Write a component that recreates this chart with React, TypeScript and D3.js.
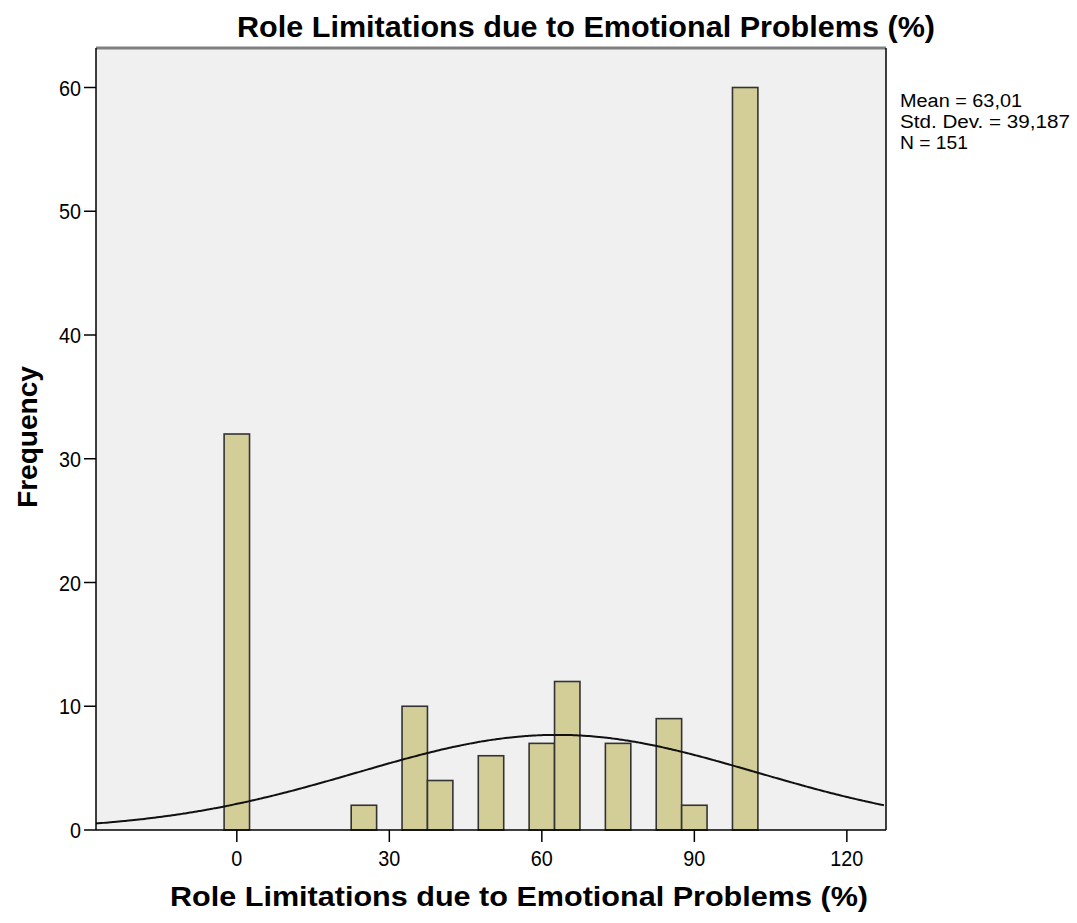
import React from "react";
import * as d3 from "d3";

const binCenters = [0, 25, 35, 40, 50, 60, 65, 75, 85, 90, 100];
const frequencies = [32, 2, 10, 4, 6, 7, 12, 7, 9, 2, 60];
const binWidth = 5;
const xTicks = [0, 30, 60, 90, 120];
const yTicks = [0, 10, 20, 30, 40, 50, 60];
const meanValue = 63.01;
const stdDev = 39.187;
const nValue = 151;
const statLines = ["Mean = 63,01", "Std. Dev. = 39,187", "N = 151"];
const statWidths = [122, 170, 68];
const titleText = "Role Limitations due to Emotional Problems (%)";
const yLabel = "Frequency";

const W = 1077;
const H = 923;
const left = 96, right = 886, top = 48, bottom = 830;

export default function App() {
  const x = d3.scaleLinear().domain([-27.7, 127.7]).range([left, right]);
  const y = d3.scaleLinear().domain([0, 60]).range([bottom, 87.5]);

  const pdf = (v: number) =>
    (nValue * binWidth) / (stdDev * Math.sqrt(2 * Math.PI)) *
    Math.exp(-0.5 * ((v - meanValue) / stdDev) ** 2);
  const xs = d3.range(-27.7, 127.71, 0.5);
  const line = d3.line<number>().x((v) => x(v)).y((v) => y(pdf(v))).curve(d3.curveMonotoneX);

  const font = "'Liberation Sans', Arial, sans-serif";

  return (
    <svg width={W} height={H} style={{ position: "absolute", left: 0, top: 0, background: "#fff" }}>
      <rect x={0} y={0} width={W} height={H} fill="#ffffff" />
      <text x={586} y={37} textAnchor="middle" fontFamily={font} fontWeight="bold" fontSize={30}
        textLength={698} lengthAdjust="spacingAndGlyphs" fill="#000">{titleText}</text>

      <rect x={left} y={top} width={right - left} height={bottom - top} fill="#f0f0f0" />
      <defs>
        <clipPath id="plotclip">
          <rect x={left} y={top} width={right - left} height={bottom - top} />
        </clipPath>
      </defs>

      {binCenters.map((c, i) => (
        <rect key={i} x={x(c - binWidth / 2)} y={y(frequencies[i])}
          width={x(c + binWidth / 2) - x(c - binWidth / 2)} height={bottom - y(frequencies[i])}
          fill="#d3ce97" stroke="#333" strokeWidth={1.6} />
      ))}

      <path d={line(xs) || ""} fill="none" stroke="#111" strokeWidth={2} clipPath="url(#plotclip)" />

      {/* frame */}
      <line x1={left} y1={top} x2={right} y2={top} stroke="#808080" strokeWidth={3} />
      <line x1={left} y1={top} x2={left} y2={bottom} stroke="#000" strokeWidth={1.5} />
      <line x1={right} y1={top} x2={right} y2={bottom} stroke="#000" strokeWidth={1.5} />
      <line x1={left} y1={bottom} x2={right} y2={bottom} stroke="#000" strokeWidth={1.5} />

      {yTicks.map((t) => (
        <g key={t}>
          <line x1={left - 12} x2={left} y1={y(t)} y2={y(t)} stroke="#000" strokeWidth={1.5} />
          <text x={81} y={y(t) + 8} textAnchor="end" fontFamily={font} fontSize={22}
            textLength={t === 0 ? 11 : 22} lengthAdjust="spacingAndGlyphs" fill="#000">{t}</text>
        </g>
      ))}
      {xTicks.map((t) => (
        <g key={t}>
          <line x1={x(t)} x2={x(t)} y1={bottom} y2={bottom + 12} stroke="#000" strokeWidth={1.5} />
          <text x={x(t)} y={866} textAnchor="middle" fontFamily={font} fontSize={22}
            textLength={String(t).length * 11} lengthAdjust="spacingAndGlyphs" fill="#000">{t}</text>
        </g>
      ))}

      <text x={519} y={906} textAnchor="middle" fontFamily={font} fontWeight="bold" fontSize={28}
        textLength={698} lengthAdjust="spacingAndGlyphs" fill="#000">{titleText}</text>

      <text transform="translate(37,437) rotate(-90)" textAnchor="middle" fontFamily={font}
        fontWeight="bold" fontSize={28} textLength={142} lengthAdjust="spacingAndGlyphs" fill="#000">{yLabel}</text>

      {statLines.map((s, i) => (
        <text key={i} x={900} y={107 + i * 21} fontFamily={font} fontSize={18}
          textLength={statWidths[i]} lengthAdjust="spacingAndGlyphs" fill="#000">{s}</text>
      ))}
    </svg>
  );
}
